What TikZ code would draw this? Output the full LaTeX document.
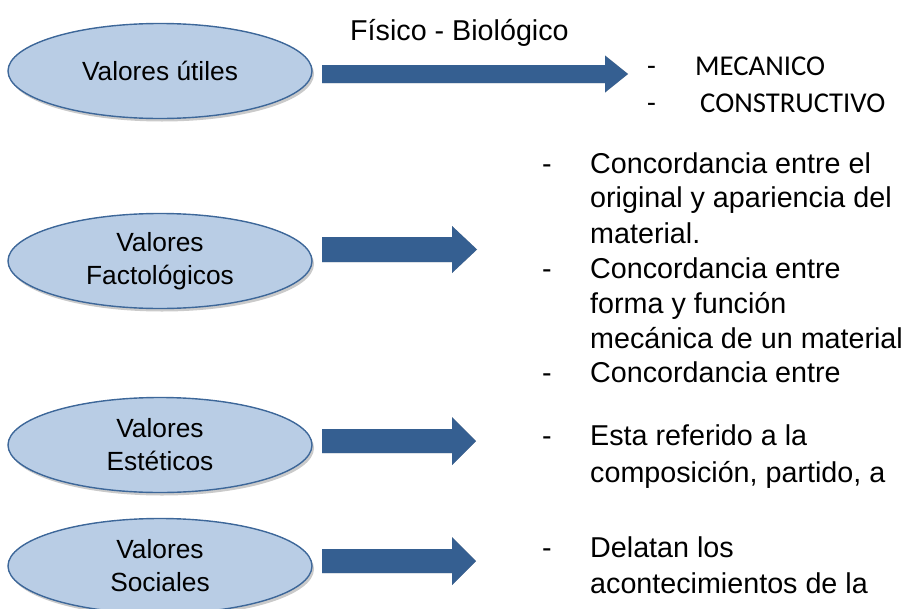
\documentclass[tikz,border=0pt]{standalone}
\usepackage{fontspec}
\setmainfont{Liberation Sans}
\newfontfamily\calibfont{Carlito}
\usetikzlibrary{shapes.geometric,calc,shadows}
\definecolor{arrowc}{HTML}{355F91}
\definecolor{ellfill}{HTML}{B9CDE5}
\definecolor{ellline}{HTML}{3D6799}
\definecolor{shadowc}{HTML}{A6A6A6}
\newcommand{\blockarrow}[5]{% #1 start, #2 tip, #3 shaft half, #4 head half, #5 head length
  \foreach \dx/\dy/\col in {2/3/shadowc,0/0/arrowc}{%
    \fill[\col,shift={(\dx,\dy)}] let \p1=(#1), \p2=(#2) in
      (\x1,\y1+#3) -- (\x2-#5,\y1+#3) -- (\x2-#5,\y1+#4) -- (\x2,\y2)
      -- (\x2-#5,\y1-#4) -- (\x2-#5,\y1-#3) -- (\x1,\y1-#3) -- cycle;
  }}
\begin{document}
\begin{tikzpicture}[x=1pt,y=-1pt,
  valbox/.style={ellipse, draw=ellline, line width=1.4pt, fill=ellfill,
    minimum width=304pt, minimum height=95pt, inner sep=0pt, align=center,
    font=\fontsize{26.3}{33}\selectfont,
    drop shadow={shadow xshift=2pt, shadow yshift=-3pt, fill=shadowc, opacity=0.6}},
  txt/.style={anchor=base west, inner sep=0pt, font=\fontsize{28.7}{35}\selectfont},
  captxt/.style={anchor=base west, inner sep=0pt, font=\calibfont\fontsize{28.7}{35}\selectfont},
]
\useasboundingbox (0,0) rectangle (913,608);

% ellipses
\node[valbox] (e1) at (160,71) {Valores útiles};
\node[valbox] (e2) at (160,261) {Valores\\Factológicos};
\node[valbox] (e3) at (160,445) {Valores\\Estéticos};
\node[valbox] (e4) at (160,566) {Valores\\Sociales};

% arrow end points
\coordinate (a1s) at (322,74);   \coordinate (a1t) at (628,74);
\coordinate (a2s) at (322,249.5);\coordinate (a2t) at (477,249.5);
\coordinate (a3s) at (322,441);  \coordinate (a3t) at (476,441);
\coordinate (a4s) at (322,561);  \coordinate (a4t) at (476,561);
\blockarrow{a1s}{a1t}{9pt}{18.5pt}{23pt}
\blockarrow{a2s}{a2t}{12.5pt}{23.5pt}{25pt}
\blockarrow{a3s}{a3t}{12pt}{24pt}{24pt}
\blockarrow{a4s}{a4t}{12pt}{24pt}{24pt}

% label above first arrow
\node[txt] (fb) at (350,40) {Físico - Biológico};

% first list
\node[captxt] (d1) at (647,75) {-};
\node[captxt] (m1) at (695,75) {MECANICO};
\node[captxt] (d2) at (647,112) {-};
\node[captxt] (m2) at (700,112) {CONSTRUCTIVO};

% factologicos list
\node[txt] (f0) at (542,173) {-};
\node[txt] (f1) at (590,173) {Concordancia entre el};
\node[txt] (f2) at (590,207) {original y apariencia del};
\node[txt] (f3) at (590,243) {material.};
\node[txt] (g0) at (542,278) {-};
\node[txt] (g1) at (590,278) {Concordancia entre};
\node[txt] (g2) at (590,313) {forma y función};
\node[txt] (g3) at (590,348) {mecánica de un material};
\node[txt] (h0) at (542,382) {-};
\node[txt] (h1) at (590,382) {Concordancia entre};

% esteticos list
\node[txt] (s0) at (542,445) {-};
\node[txt] (s1) at (590,445) {Esta referido a la};
\node[txt] (s2) at (590,482) {composición, partido, a};

% sociales list
\node[txt] (o0) at (542,557) {-};
\node[txt] (o1) at (590,557) {Delatan los};
\node[txt] (o2) at (590,593) {acontecimientos de la};
\end{tikzpicture}
\end{document}
